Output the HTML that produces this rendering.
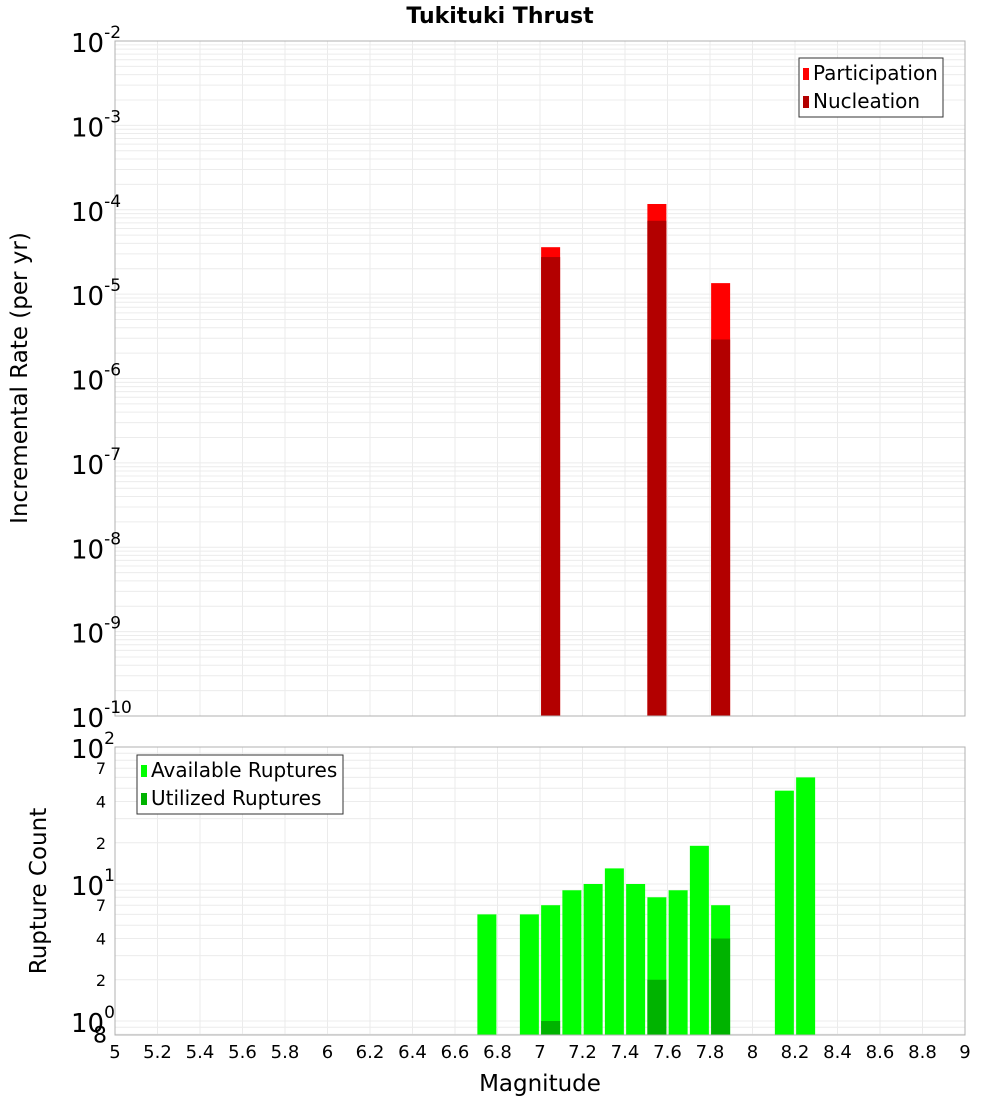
<!DOCTYPE html>
<html><head><meta charset="utf-8"><style>
body{margin:0;background:#fff;font-family:"DejaVu Sans","Liberation Sans",sans-serif}
svg text{font-family:"DejaVu Sans","Liberation Sans",sans-serif}
</style></head><body>
<svg id="c" width="1000" height="1100">
<text x="500" y="23" text-anchor="middle" font-size="22" font-weight="bold">Tukituki Thrust</text>
<text transform="translate(27,378) rotate(-90)" text-anchor="middle" font-size="23">Incremental Rate (per yr)</text>
<text transform="translate(46,891) rotate(-90)" text-anchor="middle" font-size="23">Rupture Count</text>
<text x="540" y="1091" text-anchor="middle" font-size="23">Magnitude</text>
<g id="g"></g>
</svg>
<script>
const mags=[7.05,7.55,7.85];
const participation=[3.6e-5,1.17e-4,1.35e-5];
const nucleation=[2.75e-5,7.4e-5,2.9e-6];
const cMags=[6.75,6.95,7.05,7.15,7.25,7.35,7.45,7.55,7.65,7.75,7.85,8.15,8.25];
const available=[6,6,7,9,10,13,10,8,9,19,7,48,60];
const uMags=[7.05,7.55,7.85];
const utilized=[1,2,4];
const xTicks=["5","5.2","5.4","5.6","5.8","6","6.2","6.4","6.6","6.8","7","7.2","7.4","7.6","7.8","8","8.2","8.4","8.6","8.8","9"];
const topExps=[-2,-3,-4,-5,-6,-7,-8,-9,-10];
const botLabels=[["7",70],["4",40],["2",20],["7",7],["4",4],["2",2],["8",0.8]];

const NS="http://www.w3.org/2000/svg",g=document.getElementById('g');
function el(t,a,txt){const e=document.createElementNS(NS,t);for(const k in a)e.setAttribute(k,a[k]);if(txt!=null)e.textContent=txt;g.appendChild(e);return e;}
const L=115,R=965;
const x=m=>L+(m-5)/4*(R-L);
const T0=41,T1=716,yT=v=>T0+(-2-Math.log10(v))*(T1-T0)/8;
const B0=747,B1=1035,yB=v=>1021-137*Math.log10(v);
const bw=19;
for(let i=0;i<=20;i++){const xx=x(5+i*0.2);
 let e=el('line',{x1:xx,x2:xx,y1:T0,y2:T1,stroke:'#ebebeb'});
 e=el('line',{x1:xx,x2:xx,y1:B0,y2:B1,stroke:'#ebebeb'});}
for(let d=-10;d<-2;d++)for(let k=1;k<10;k++){const yy=yT(k*Math.pow(10,d));
 const e=el('line',{x1:L,x2:R,y1:yy,y2:yy,stroke:'#ececec'});}
for(let d=-1;d<2;d++)for(let k=1;k<10;k++){const v=k*Math.pow(10,d),yy=yB(v);if(yy>B1||yy<B0)continue;
 const e=el('line',{x1:L,x2:R,y1:yy,y2:yy,stroke:'#ececec'});}
mags.forEach((m,i)=>{let e=el('rect',{x:x(m)-bw/2,y:yT(participation[i]),width:bw,height:T1-yT(participation[i]),fill:'#ff0000'});
 
 e=el('rect',{x:x(m)-bw/2,y:yT(nucleation[i]),width:bw,height:T1-yT(nucleation[i]),fill:'#b30000'});
 });
cMags.forEach((m,i)=>{const e=el('rect',{x:x(m)-bw/2,y:yB(available[i]),width:bw,height:B1-yB(available[i]),fill:'#00ff00'});
 });
uMags.forEach((m,i)=>{const e=el('rect',{x:x(m)-bw/2,y:yB(utilized[i]),width:bw,height:B1-yB(utilized[i]),fill:'#00b300'});
 });
let f=el('rect',{x:L,y:T0,width:R-L,height:T1-T0,fill:'none',stroke:'#b0b0b0'});
f=el('rect',{x:L,y:B0,width:R-L,height:B1-B0,fill:'none',stroke:'#b0b0b0'});
xTicks.forEach((t,i)=>{const e=el('text',{x:x(5+i*0.2),y:1058,'text-anchor':'middle','font-size':18},t);});
topExps.forEach(p=>{const yy=yT(Math.pow(10,p));const e=el('text',{x:71,y:yy+11,'font-size':26});
 
 const a=document.createElementNS(NS,'tspan');a.textContent='10';e.appendChild(a);
 const b=document.createElementNS(NS,'tspan');b.setAttribute('dy','-14');b.setAttribute('font-size','17');b.textContent=String(p);e.appendChild(b);});
[[2,100],[1,10],[0,1]].forEach(([p,v])=>{const yy=yB(v);const e=el('text',{x:71,y:yy+11,'font-size':26});
 
 const a=document.createElementNS(NS,'tspan');a.textContent='10';e.appendChild(a);
 const b=document.createElementNS(NS,'tspan');b.setAttribute('dy','-14');b.setAttribute('font-size','17');b.textContent=String(p);e.appendChild(b);});
botLabels.forEach(([t,v])=>{const e=el('text',{x:v<1?107:106,y:yB(v)+(v<1?8:6),'text-anchor':'end','font-size':v<1?22:16},t);
 });
function legend(x0,y0,w,h,items,name){const b=el('rect',{x:x0,y:y0,width:w,height:h,fill:'#fff',stroke:'#333'});
 items.forEach(([c,t],i)=>{const yy=y0+15+i*28;let e=el('rect',{x:x0+4,y:yy-5,width:6,height:12,fill:c});
 e=el('text',{x:x0+14,y:yy+7,'font-size':20},t);});}
legend(799,58,144,59,[['#ff0000','Participation'],['#b30000','Nucleation']],'top-legend');
legend(137,755,206,59,[['#00ff00','Available Ruptures'],['#00b300','Utilized Ruptures']],'bottom-legend');
</script>
</body></html>
